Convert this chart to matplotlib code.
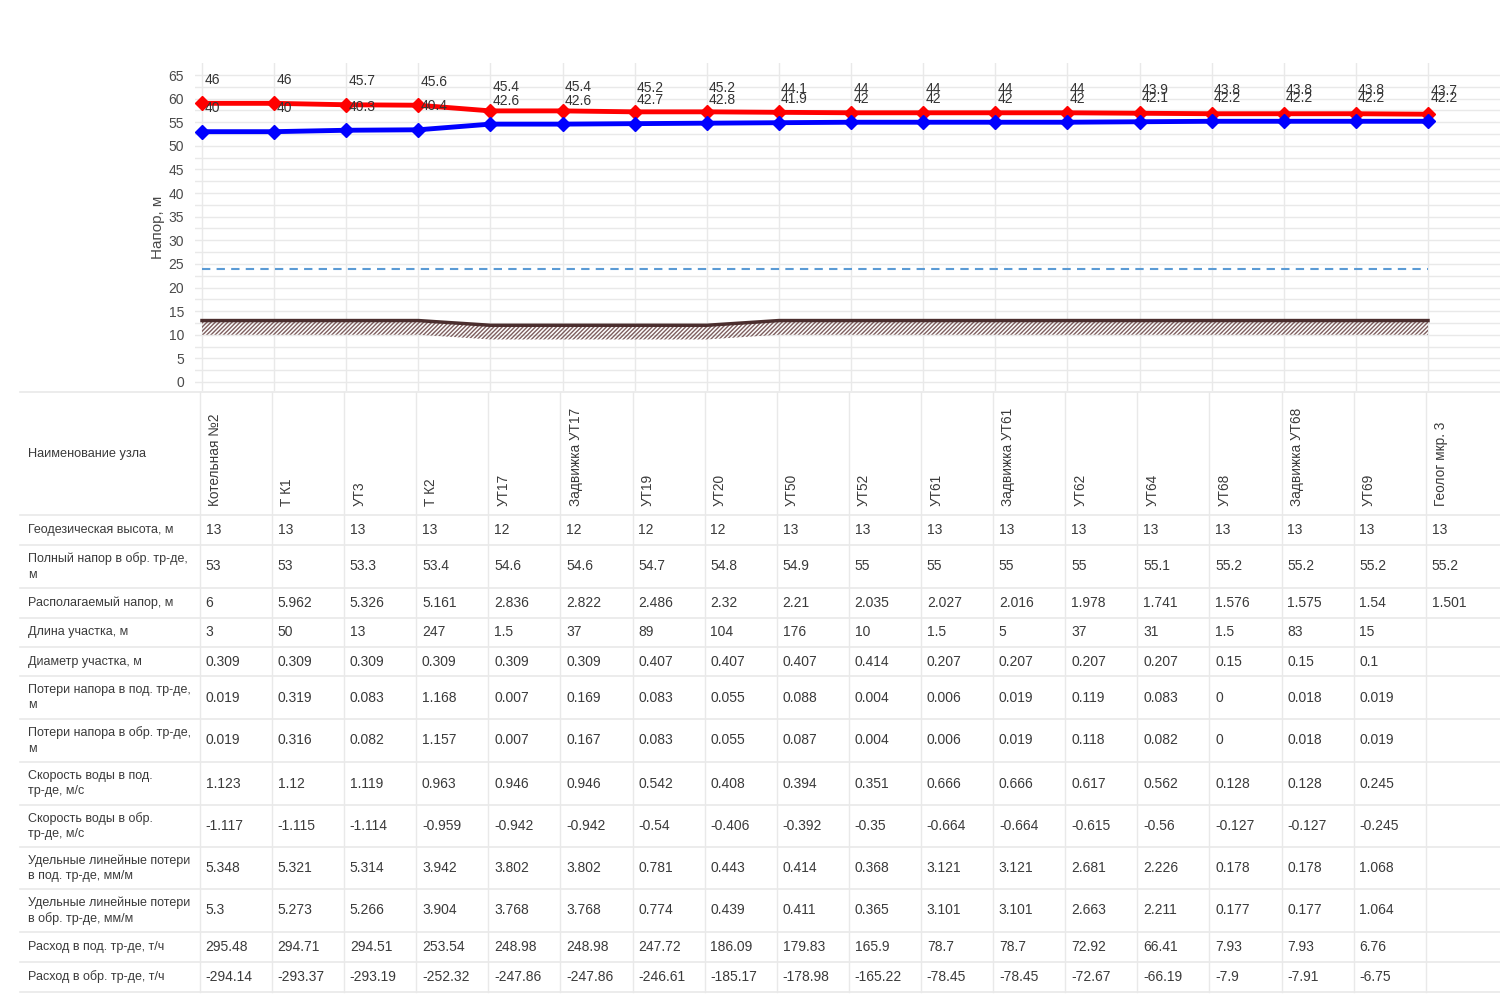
import matplotlib
matplotlib.use("Agg")
import matplotlib.pyplot as plt
import numpy as np

# Узлы
names = ['Котельная №2', 'Т К1', 'УТ3', 'Т К2', 'УТ17', 'Задвижка УТ17', 'УТ19', 'УТ20',
         'УТ50', 'УТ52', 'УТ61', 'Задвижка УТ61', 'УТ62', 'УТ64', 'УТ68', 'Задвижка УТ68',
         'УТ69', 'Геолог мкр. 3']

geod = [13, 13, 13, 13, 12, 12, 12, 12, 13, 13, 13, 13, 13, 13, 13, 13, 13, 13]
supply_full = [59, 59, 58.7, 58.6, 57.4, 57.4, 57.2, 57.2, 57.1, 57, 57, 57, 57, 56.9, 56.8, 56.8, 56.8, 56.7]
return_full = [53, 53, 53.3, 53.4, 54.6, 54.6, 54.7, 54.8, 54.9, 55, 55, 55, 55, 55.1, 55.2, 55.2, 55.2, 55.2]
supply_lbl = [46, 46, 45.7, 45.6, 45.4, 45.4, 45.2, 45.2, 44.1, 44, 44, 44, 44, 43.9, 43.8, 43.8, 43.8, 43.7]
return_lbl = [40, 40, 40.3, 40.4, 42.6, 42.6, 42.7, 42.8, 41.9, 42, 42, 42, 42, 42.1, 42.2, 42.2, 42.2, 42.2]
static_head = [24] * 18

avail = [6, 5.962, 5.326, 5.161, 2.836, 2.822, 2.486, 2.32, 2.21, 2.035, 2.027, 2.016, 1.978, 1.741, 1.576, 1.575, 1.54, 1.501]
length = [3, 50, 13, 247, 1.5, 37, 89, 104, 176, 10, 1.5, 5, 37, 31, 1.5, 83, 15]
diam = [0.309, 0.309, 0.309, 0.309, 0.309, 0.309, 0.407, 0.407, 0.407, 0.414, 0.207, 0.207, 0.207, 0.207, 0.15, 0.15, 0.1]
loss_s = [0.019, 0.319, 0.083, 1.168, 0.007, 0.169, 0.083, 0.055, 0.088, 0.004, 0.006, 0.019, 0.119, 0.083, 0, 0.018, 0.019]
loss_r = [0.019, 0.316, 0.082, 1.157, 0.007, 0.167, 0.083, 0.055, 0.087, 0.004, 0.006, 0.019, 0.118, 0.082, 0, 0.018, 0.019]
vel_s = [1.123, 1.12, 1.119, 0.963, 0.946, 0.946, 0.542, 0.408, 0.394, 0.351, 0.666, 0.666, 0.617, 0.562, 0.128, 0.128, 0.245]
vel_r = [-1.117, -1.115, -1.114, -0.959, -0.942, -0.942, -0.54, -0.406, -0.392, -0.35, -0.664, -0.664, -0.615, -0.56, -0.127, -0.127, -0.245]
spec_s = [5.348, 5.321, 5.314, 3.942, 3.802, 3.802, 0.781, 0.443, 0.414, 0.368, 3.121, 3.121, 2.681, 2.226, 0.178, 0.178, 1.068]
spec_r = [5.3, 5.273, 5.266, 3.904, 3.768, 3.768, 0.774, 0.439, 0.411, 0.365, 3.101, 3.101, 2.663, 2.211, 0.177, 0.177, 1.064]
flow_s = [295.48, 294.71, 294.51, 253.54, 248.98, 248.98, 247.72, 186.09, 179.83, 165.9, 78.7, 78.7, 72.92, 66.41, 7.93, 7.93, 6.76]
flow_r = [-294.14, -293.37, -293.19, -252.32, -247.86, -247.86, -246.61, -185.17, -178.98, -165.22, -78.45, -78.45, -72.67, -66.19, -7.9, -7.91, -6.75]

row_labels = ['Геодезическая высота, м', 'Полный напор в обр. тр-де,\nм', 'Располагаемый напор, м',
              'Длина участка, м', 'Диаметр участка, м', 'Потери напора в под. тр-де,\nм',
              'Потери напора в обр. тр-де,\nм', 'Скорость воды в под.\nтр-де, м/с',
              'Скорость воды в обр.\nтр-де, м/с', 'Удельные линейные потери\nв под. тр-де, мм/м',
              'Удельные линейные потери\nв обр. тр-де, мм/м', 'Расход в под. тр-де, т/ч',
              'Расход в обр. тр-де, т/ч']
rows = [geod, return_full, avail, length, diam, loss_s, loss_r, vel_s, vel_r, spec_s, spec_r, flow_s, flow_r]
row_edges = [392, 515, 545, 588, 618, 647, 676, 719, 762, 805, 847, 889, 932, 962, 992]

font = ['Liberation Sans', 'DejaVu Sans']
txt_col = '#3a3a3a'
grid_col = '#e9e9e9'

x = np.arange(len(names))
step = (1428 - 202) / 17.0
x_left = -202 / step
x_right = (1500 - 202) / step

fig = plt.figure(figsize=(15, 10), dpi=100)

# таблица (по вертикали - пиксели)
tab = fig.add_axes([0, 0, 1, 1], zorder=0)
tab.set_xlim(x_left, x_right)
tab.set_ylim(1000, 0)
tab.axis('off')
tab_left = x_left + 20 / step
for ye in row_edges:
    tab.plot([tab_left, x_right], [ye, ye], color=grid_col, lw=1.2)
for i in range(len(names)):
    tab.plot([i - 0.03, i - 0.03], [row_edges[0], row_edges[-1]], color=grid_col, lw=1.0)
    tab.text(i + 0.18, 506, names[i], rotation=90, ha='center', va='bottom',
             fontsize=9.8, color=txt_col, family=font)
tab.text(tab_left + 0.11, (row_edges[0] + row_edges[1]) / 2, 'Наименование узла',
         ha='left', va='center', fontsize=9.2, color=txt_col, family=font)
for r, (lab, vals) in enumerate(zip(row_labels, rows)):
    yc = (row_edges[r + 1] + row_edges[r + 2]) / 2
    tab.text(tab_left + 0.11, yc, lab, ha='left', va='center', fontsize=9.0,
             color=txt_col, family=font, linespacing=1.35)
    for i, v in enumerate(vals):
        tab.text(i + 0.05, yc, f"{v:g}", ha='left', va='center', fontsize=10,
                 color=txt_col, family=font)

# график
ax = fig.add_axes([195 / 1500, 1 - 391.4 / 1000, 1 - 195 / 1500, 328.2 / 1000], zorder=1)
ax.set_xlim(x_left + 195 / step, x_right)
ax.set_ylim(-2, 67.5)
for s in ax.spines.values():
    s.set_visible(False)
ax.set_yticks(np.arange(0, 66, 5))
ax.set_yticks(np.arange(2.5, 66, 5), minor=True)
ax.set_xticks(x)
ax.tick_params(axis='x', length=0, labelbottom=False)
ax.tick_params(axis='y', which='both', length=0, labelsize=10, labelcolor='#4a4a4a', pad=8)
for t in ax.get_yticklabels():
    t.set_family(font)
ax.grid(True, which='both', color=grid_col, lw=1.0)
ax.set_axisbelow(True)
ax.set_ylabel('Напор, м', fontsize=11, color='#4a4a4a', labelpad=2, family=font)

ax.fill_between(x, np.array(geod) - 3, geod, facecolor='none', edgecolor='#7d5e5e',
                hatch='////////', lw=0, zorder=2)
ax.plot(x, geod, color='#4b2e2e', lw=2.5, zorder=3)
ax.plot(x, static_head, color='#5b9bd5', lw=1.5, ls=(0, (4, 3)), zorder=3)
ax.plot(x, supply_full, color='#ff0000', lw=3.5, marker='D', ms=7, zorder=4)
ax.plot(x, return_full, color='#0000ff', lw=3.5, marker='D', ms=7, zorder=4)

for i in range(len(names)):
    ax.text(x[i] + 0.03, supply_full[i] + 5, f"{supply_lbl[i]:g}", ha='left', va='center',
            fontsize=10, color='#333333', family=font, zorder=5)
    ax.text(x[i] + 0.03, return_full[i] + 5, f"{return_lbl[i]:g}", ha='left', va='center',
            fontsize=10, color='#333333', family=font, zorder=5)

fig.savefig('out.png', dpi=100, facecolor='white')
